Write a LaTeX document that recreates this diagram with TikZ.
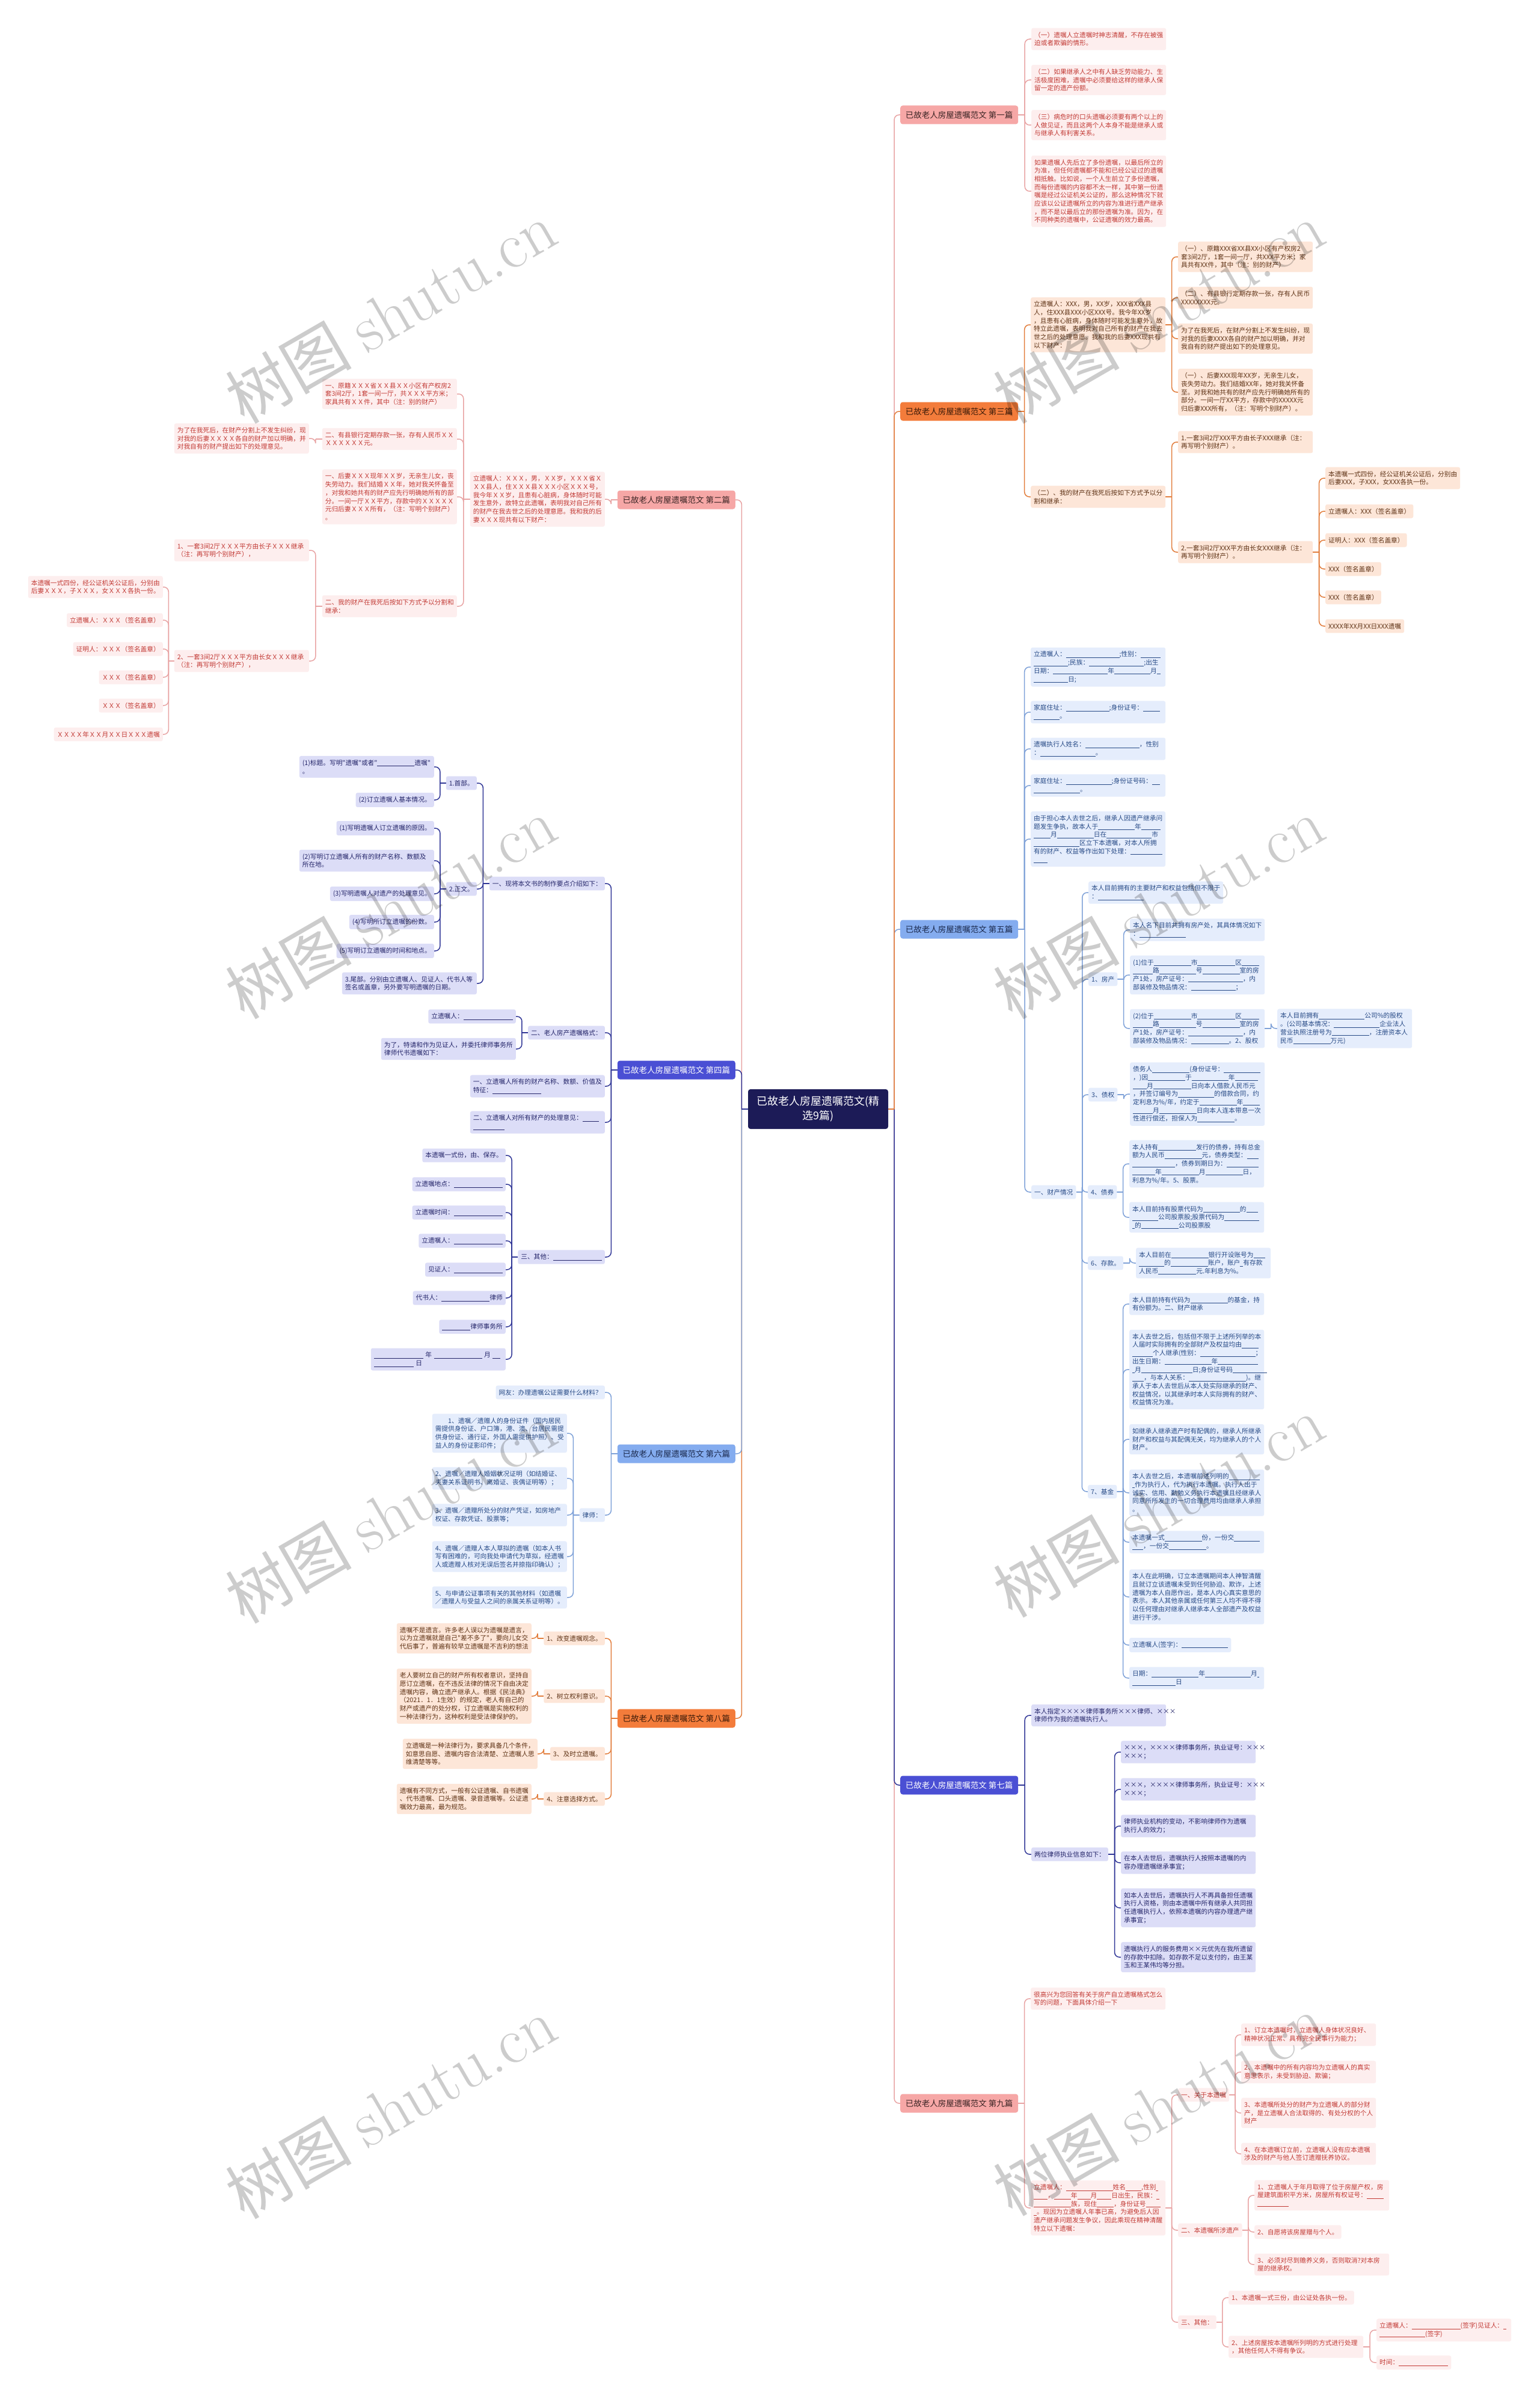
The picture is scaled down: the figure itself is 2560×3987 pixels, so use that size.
\documentclass[tikz,border=0pt]{standalone}
\usepackage{fontspec}
\newfontfamily\cjk{Noto Sans CJK SC}
\pgfdeclarelayer{bg}
\pgfsetlayers{bg,main}
\definecolor{pkF}{HTML}{FDEEEE}\definecolor{pkT}{HTML}{C23A35}\definecolor{pkL}{HTML}{E8A3A3}\definecolor{pkH}{HTML}{F6A7A6}\definecolor{pkHT}{HTML}{3A2424}
\definecolor{ogF}{HTML}{FDE6D8}\definecolor{ogT}{HTML}{5E3215}\definecolor{ogL}{HTML}{E27D3C}\definecolor{ogH}{HTML}{F37C3B}\definecolor{ogHT}{HTML}{3A1A08}
\definecolor{nvF}{HTML}{DCDDF7}\definecolor{nvT}{HTML}{25266A}\definecolor{nvL}{HTML}{2F3596}\definecolor{nvH}{HTML}{4A4FD4}
\definecolor{lbF}{HTML}{E5EDFC}\definecolor{lbT}{HTML}{274A86}\definecolor{lbL}{HTML}{7EA1D8}\definecolor{lbH}{HTML}{84ACEF}\definecolor{lbHT}{HTML}{1B2A4E}
\definecolor{ctrF}{HTML}{1C1B57}
\newcommand\blk[1]{\rule[-1.5pt]{#1pt}{0.55pt}}
\newcommand\lkR[3]{%
  \path (#2.east) -- (#2.east -| #3.west) coordinate[pos=0.5] (mm);
  \draw[#1] (#2.east) -- (mm);
  \draw[#1,rounded corners=8pt] (mm) |- (#3.west);}
\newcommand\lkL[3]{%
  \path (#2.west) -- (#2.west -| #3.east) coordinate[pos=0.5] (mm);
  \draw[#1] (#2.west) -- (mm);
  \draw[#1,rounded corners=8pt] (mm) |- (#3.east);}
\tikzset{
 bx/.style={font=\cjk\fontsize{10.7}{13.7}\selectfont, inner xsep=5pt, inner ysep=6.4pt, rounded corners=3pt, align=left},
 bw/.style={bx, text width=214pt},
 Pk/.style={fill=pkF, text=pkT},
 Og/.style={fill=ogF, text=ogT},
 Nv/.style={fill=nvF, text=nvT},
 Lb/.style={fill=lbF, text=lbT},
 tt/.style={font=\cjk\fontsize{13.5}{16}\selectfont, minimum width=196pt, minimum height=31pt, inner sep=2pt, rounded corners=4pt},
 ttPk/.style={tt, fill=pkH, text=pkHT},
 ttOg/.style={tt, fill=ogH, text=ogHT},
 ttNv/.style={tt, fill=nvH, text=white},
 ttLb/.style={tt, fill=lbH, text=lbHT},
 ctr/.style={font=\cjk\fontsize{18}{24}\selectfont, fill=ctrF, text=white, align=center, minimum width=233pt, minimum height=66pt, rounded corners=4pt},
 lnPk/.style={draw=pkL, line width=1.5pt},
 lnOg/.style={draw=ogL, line width=1.5pt},
 lnNv/.style={draw=nvL, line width=1.5pt},
 lnLb/.style={draw=lbL, line width=1.5pt},
 wm/.style={text=black, text opacity=0.2, rotate=30, inner sep=0pt}
}
\begin{document}
\begin{tikzpicture}[x=1pt,y=-1pt]
\useasboundingbox (0,0) rectangle (2560,3987);
% ---------- centre and titles
\node[ctr] (c) at (1360.5,1844) {已故老人房屋遗嘱范文(精\\选9篇)};
\node[ttPk, anchor=west] (T1) at (1497,191) {已故老人房屋遗嘱范文 第一篇};
\node[ttOg, anchor=west] (T3) at (1497,684) {已故老人房屋遗嘱范文 第三篇};
\node[ttLb, anchor=west] (T5) at (1497,1545) {已故老人房屋遗嘱范文 第五篇};
\node[ttNv, anchor=west] (T7) at (1497,2968) {已故老人房屋遗嘱范文 第七篇};
\node[ttPk, anchor=west] (T9) at (1497,3497) {已故老人房屋遗嘱范文 第九篇};
\node[ttPk, anchor=east] (T2) at (1223,831) {已故老人房屋遗嘱范文 第二篇};
\node[ttNv, anchor=east] (T4) at (1223,1779) {已故老人房屋遗嘱范文 第四篇};
\node[ttLb, anchor=east] (T6) at (1223,2417) {已故老人房屋遗嘱范文 第六篇};
\node[ttOg, anchor=east] (T8) at (1223,2857) {已故老人房屋遗嘱范文 第八篇};
% ---------- 第一篇
\node[bw,Pk,anchor=west] (p1a) at (1715,65) {（一）遗嘱人立遗嘱时神志清醒，不存在被强\\迫或者欺骗的情形。};
\node[bw,Pk,anchor=west] (p1b) at (1715,133) {（二）如果继承人之中有人缺乏劳动能力、生\\活极度困难，遗嘱中必须要给这样的继承人保\\留一定的遗产份额。};
\node[bw,Pk,anchor=west] (p1c) at (1715,208) {（三）病危时的口头遗嘱必须要有两个以上的\\人做见证，而且这两个人本身不能是继承人或\\与继承人有利害关系。};
\node[bw,Pk,anchor=west] (p1d) at (1715,318) {如果遗嘱人先后立了多份遗嘱，以最后所立的\\为准，但任何遗嘱都不能和已经公证过的遗嘱\\相抵触。比如说，一个人生前立了多份遗嘱，\\而每份遗嘱的内容都不太一样，其中第一份遗\\嘱是经过公证机关公证的，那么这种情况下就\\应该以公证遗嘱所立的内容为准进行遗产继承\\，而不是以最后立的那份遗嘱为准。因为，在\\不同种类的遗嘱中，公证遗嘱的效力最高。};
% ---------- 第三篇
\node[bw,Og,anchor=west] (q1) at (1714,540) {立遗嘱人：XXX，男，XX岁，XXX省XXX县\\人，住XXX县XXX小区XXX号。我今年XX岁\\，且患有心脏病，身体随时可能发生意外，故\\特立此遗嘱，表明我对自己所有的财产在我去\\世之后的处理意愿。我和我的后妻XXX现共有\\以下财产：};
\node[bw,Og,anchor=west] (q2) at (1714,826) {（二）、我的财产在我死后按如下方式予以分\\割和继承：};
\node[bw,Og,anchor=west] (q1a) at (1959,427) {（一）、原籍XXX省XX县XX小区有产权房2\\套3间2厅，1套一间一厅，共XXX平方米；家\\具共有XX件，其中（注：别的财产）};
\node[bw,Og,anchor=west] (q1b) at (1959,495) {（二）、有县银行定期存款一张，存有人民币\\XXXXXXXX元。};
\node[bw,Og,anchor=west] (q1c) at (1959,563) {为了在我死后，在财产分割上不发生纠纷，现\\对我的后妻XXXX各自的财产加以明确，并对\\我自有的财产提出如下的处理意见。};
\node[bw,Og,anchor=west] (q1d) at (1959,652) {（一）、后妻XXX现年XX岁，无亲生儿女，\\丧失劳动力。我们结婚XX年，她对我关怀备\\至。对我和她共有的财产应先行明确她所有的\\部分。一间一厅XX平方，存款中的XXXXX元\\归后妻XXX所有，（注：写明个别财产）。};
\node[bw,Og,anchor=west] (q2a) at (1959,735) {1.一套3间2厅XXX平方由长子XXX继承（注：\\再写明个别财产）。};
\node[bw,Og,anchor=west] (q2b) at (1959,918) {2.一套3间2厅XXX平方由长女XXX继承（注：\\再写明个别财产）。};
\node[bw,Og,anchor=west] (q2b1) at (2204,795) {本遗嘱一式四份，经公证机关公证后，分别由\\后妻XXX，子XXX，女XXX各执一份。};
\node[bx,Og,anchor=west] (q2b2) at (2204,850) {立遗嘱人：XXX（签名盖章）};
\node[bx,Og,anchor=west] (q2b3) at (2204,898) {证明人：XXX（签名盖章）};
\node[bx,Og,anchor=west] (q2b4) at (2204,946) {XXX（签名盖章）};
\node[bx,Og,anchor=west] (q2b5) at (2204,993) {XXX（签名盖章）};
\node[bx,Og,anchor=west] (q2b6) at (2204,1041) {XXXX年XX月XX日XXX遗嘱};
% ---------- 第五篇
\node[bw,Lb,anchor=west] (v1) at (1714,1109) {立遗嘱人：\blk{89};性别：\blk{33}\\\blk{57};民族：\blk{91};出生\\日期：\blk{91}年\blk{60}月\blk{6}\\\blk{57}日;};
\node[bw,Lb,anchor=west] (v2) at (1714,1184) {家庭住址：\blk{72};身份证号：\blk{28}\\\blk{43}。};
\node[bw,Lb,anchor=west] (v3) at (1714,1245) {遗嘱执行人姓名：\blk{90}，性别\\：\blk{92}。};
\node[bw,Lb,anchor=west] (v4) at (1714,1306) {家庭住址：\blk{76};身份证号码：\blk{13}\\\blk{77}。};
\node[bw,Lb,anchor=west] (v5) at (1714,1395) {由于担心本人去世之后，继承人因遗产继承问\\题发生争执，故本人于\blk{61}年\blk{32}\\\blk{28}月\blk{61}日在\blk{75}市\\\blk{76}区立下本遗嘱，对本人所拥\\有的财产、权益等作出如下处理：\blk{53}\\\blk{23}};
\node[bx,Lb,anchor=west] (v6) at (1715,1982) {一、财产情况};
\node[bw,Lb,anchor=west] (w0) at (1810,1484) {本人目前拥有的主要财产和权益包括但不限于\\：\blk{76}};
\node[bx,Lb,anchor=west] (w1) at (1810,1628) {1、房产};
\node[bx,Lb,anchor=west] (w3) at (1810,1820) {3、债权};
\node[bx,Lb,anchor=west] (w4) at (1809,1982) {4、债券};
\node[bx,Lb,anchor=west] (w6) at (1809,2100) {6、存款。};
\node[bx,Lb,anchor=west] (w7) at (1809,2480) {7、基金};
\node[bw,Lb,anchor=west] (w1a) at (1879,1546) {本人名下目前共拥有房产处，其具体情况如下\\：\blk{77}};
\node[bw,Lb,anchor=west] (w1b) at (1879,1621) {(1)位于\blk{62}市\blk{63}区\blk{29}\\\blk{33}路\blk{61}号\blk{62}室的房\\产1处，房产证号：\blk{91}，内\\部装修及物品情况：\blk{74}；};
\node[bw,Lb,anchor=west] (w1c) at (1879,1710) {(2)位于\blk{62}市\blk{63}区\blk{29}\\\blk{33}路\blk{61}号\blk{62}室的房\\产1处，房产证号：\blk{91}，内\\部装修及物品情况：\blk{63}。2、股权};
\node[bw,Lb,anchor=west] (w1c1) at (2124,1710) {本人目前拥有\blk{76}公司\%的股权\\。(公司基本情况：\blk{76}企业法人\\营业执照注册号为\blk{62}，注册资本人\\民币\blk{62}万元)};
\node[bw,Lb,anchor=west] (w3a) at (1879,1819) {债务人\blk{62}(身份证号：\blk{61}\\，)因\blk{62}于\blk{61}年\blk{38}\\\blk{23}月\blk{63}日向本人借款人民币元\\，并签订编号为\blk{60}的借款合同，约\\定利息为\%/年，约定于\blk{62}年\blk{28}\\\blk{33}月\blk{62}日向本人连本带息一次\\性进行偿还，担保人为\blk{62}。};
\node[bw,Lb,anchor=west] (w4a) at (1878,1935) {本人持有\blk{63}发行的债券，持有总金\\额为人民币\blk{62}元，债券类型：\blk{19}\\\blk{71}，债券到期日为：\blk{53}\\\blk{38}年\blk{62}月\blk{62}日，\\利息为\%/年。5、股票。};
\node[bw,Lb,anchor=west] (w4b) at (1878,2024) {本人目前持有股票代码为\blk{61}的\blk{19}\\\blk{43}公司股票股;股票代码为\blk{58}\\\blk{4}的\blk{62}公司股票股};
\node[bw,Lb,anchor=west] (w6a) at (1889,2100) {本人目前在\blk{62}银行开设账号为\blk{19}\\\blk{42}的\blk{62}账户，账户\blk{5}有存款\\人民币\blk{63}元.年利息为\%。};
\node[bw,Lb,anchor=west] (w7a) at (1878,2168) {本人目前持有代码为\blk{62}的基金，持\\有份额为。二、财产继承};
\node[bw,Lb,anchor=west] (w7b) at (1878,2277) {本人去世之后，包括但不限于上述所列举的本\\人届时实际拥有的全部财产及权益均由\blk{28}\\\blk{34}个人继承(性别：\blk{92}；\\出生日期：\blk{78}年\blk{67}\\\blk{4}月\blk{85}日;身份证号码\blk{57}\\\blk{19}，与本人关系：\blk{95})。继\\承人于本人去世后从本人处实际继承的财产、\\权益情况，以其继承时本人实际拥有的财产、\\权益情况为准。};
\node[bw,Lb,anchor=west] (w7c) at (1878,2393) {如继承人继承遗产时有配偶的，继承人所继承\\财产和权益与其配偶无关，均为继承人的个人\\财产。};
\node[bw,Lb,anchor=west] (w7d) at (1878,2482) {本人去世之后，本遗嘱前述列明的\blk{51}\\\blk{4}作为执行人，代为执行本遗嘱。执行人出于\\诚实、信用、勤勉义务执行本遗嘱且经继承人\\同意所所发生的一切合理费用均由继承人承担\\。};
\node[bw,Lb,anchor=west] (w7e) at (1878,2564) {本遗嘱一式\blk{62}份，一份交\blk{43}\\\blk{18}，一份交\blk{62}。};
\node[bw,Lb,anchor=west] (w7f) at (1878,2655) {本人在此明确，订立本遗嘱期间本人神智清醒\\且就订立该遗嘱未受到任何胁迫、欺诈，上述\\遗嘱为本人自愿作出，是本人内心真实意思的\\表示。本人其他亲属或任何第三人均不得不得\\以任何理由对继承人继承本人全部遗产及权益\\进行干涉。};
\node[bx,Lb,anchor=west] (w7g) at (1878,2735) {立遗嘱人(签字)：\blk{77}};
\node[bw,Lb,anchor=west] (w7h) at (1878,2790) {日期：\blk{78}年\blk{76}月\blk{3}\\\blk{72}日};
% ---------- 第七篇
\node[bw,Nv,anchor=west] (x1) at (1715,2852) {本人指定××××律师事务所×××律师、×××\\律师作为我的遗嘱执行人。};
\node[bx,Nv,anchor=west] (x2) at (1715,3083) {两位律师执业信息如下：};
\node[bw,Nv,anchor=west] (x2a) at (1864,2913) {×××，××××律师事务所，执业证号：×××\\×××；};
\node[bw,Nv,anchor=west] (x2b) at (1864,2975) {×××，××××律师事务所，执业证号：×××\\×××；};
\node[bw,Nv,anchor=west] (x2c) at (1864,3036) {律师执业机构的变动，不影响律师作为遗嘱\\执行人的效力；};
\node[bw,Nv,anchor=west] (x2d) at (1864,3097) {在本人去世后，遗嘱执行人按照本遗嘱的内\\容办理遗嘱继承事宜；};
\node[bw,Nv,anchor=west] (x2e) at (1864,3172) {如本人去世后，遗嘱执行人不再具备担任遗嘱\\执行人资格，则由本遗嘱中所有继承人共同担\\任遗嘱执行人，依照本遗嘱的内容办理遗产继\\承事宜；};
\node[bw,Nv,anchor=west] (x2f) at (1864,3254) {遗嘱执行人的服务费用××元优先在我所遗留\\的存款中扣除。如存款不足以支付的，由王某\\玉和王某伟均等分担。};
% ---------- 第九篇
\node[bw,Pk,anchor=west] (y1) at (1714,3323) {很高兴为您回答有关于房产自立遗嘱格式怎么\\写的问题，下面具体介绍一下};
\node[bw,Pk,anchor=west] (y2) at (1714,3671) {立遗嘱人：\blk{78}姓名\blk{26},性别\blk{4}\\\blk{23}，\blk{28}年\blk{22}月\blk{24}日出生，民族：\blk{5}\\\blk{62}族，现住\blk{28}，身份证号\blk{24}\\\blk{5}。现因为立遗嘱人年事已高，为避免后人因\\遗产继承问题发生争议，因此乘现在精神清醒\\特立以下遗嘱：};
\node[bx,Pk,anchor=west] (y2a) at (1959,3483) {一、关于本遗嘱};
\node[bx,Pk,anchor=west] (y2b) at (1959,3708) {二、本遗嘱所涉遗产};
\node[bx,Pk,anchor=west] (y2c) at (1959,3861) {三、其他：};
\node[bw,Pk,anchor=west] (y2a1) at (2064,3383) {1、订立本遗嘱时，立遗嘱人身体状况良好、\\精神状况正常、具有完全民事行为能力；};
\node[bw,Pk,anchor=west] (y2a2) at (2064,3445) {2、本遗嘱中的所有内容均为立遗嘱人的真实\\意思表示，未受到胁迫、欺骗；};
\node[bw,Pk,anchor=west] (y2a3) at (2064,3513) {3、本遗嘱所处分的财产为立遗嘱人的部分财\\产，是立遗嘱人合法取得的、有处分权的个人\\财产};
\node[bw,Pk,anchor=west] (y2a4) at (2064,3581) {4、在本遗嘱订立前，立遗嘱人没有应本遗嘱\\涉及的财产与他人签订遗赠抚养协议。};
\node[bw,Pk,anchor=west] (y2b1) at (2086,3650) {1、立遗嘱人于年月取得了位于房屋产权，房\\屋建筑面积平方米，房屋所有权证号：\blk{28}\\\blk{52}};
\node[bx,Pk,anchor=west] (y2b2) at (2086,3711) {2、自愿将该房屋赠与个人。};
\node[bw,Pk,anchor=west] (y2b3) at (2086,3765) {3、必须对尽到赡养义务，否则取消?对本房\\屋的继承权。};
\node[bx,Pk,anchor=west] (y2c1) at (2043,3820) {1、本遗嘱一式三份，由公证处各执一份。};
\node[bw,Pk,anchor=west] (y2c2) at (2043,3902) {2、上述房屋按本遗嘱所列明的方式进行处理\\，其他任何人不得有争议。};
\node[bw,Pk,anchor=west] (y2c2a) at (2289,3874) {立遗嘱人：\blk{81}(签字)见证人：\blk{5}\\\blk{76}(签字)};
\node[bx,Pk,anchor=west] (y2c2b) at (2289,3928) {时间：\blk{82}};
% ---------- 第二篇
\node[bw,Pk,anchor=east] (r1) at (1006,830) {立遗嘱人：ＸＸＸ，男，ＸＸ岁，ＸＸＸ省Ｘ\\ＸＸ县人，住ＸＸＸ县ＸＸＸ小区ＸＸＸ号，\\我今年ＸＸ岁，且患有心脏病，身体随时可能\\发生意外，故特立此遗嘱，表明我对自己所有\\的财产在我去世之后的处理意愿。我和我的后\\妻ＸＸＸ现共有以下财产：};
\node[bw,Pk,anchor=east] (r1a) at (760,655) {一、原籍ＸＸＸ省ＸＸ县ＸＸ小区有产权房2\\套3间2厅，1套一间一厅，共ＸＸＸ平方米；\\家具共有ＸＸ件，其中（注：别的财产）};
\node[bw,Pk,anchor=east] (r1b) at (760,730) {二、有县银行定期存款一张，存有人民币ＸＸ\\ＸＸＸＸＸＸ元。};
\node[bw,Pk,anchor=east] (r1c) at (760,826) {一、后妻ＸＸＸ现年ＸＸ岁，无亲生儿女，丧\\失劳动力。我们结婚ＸＸ年，她对我关怀备至\\，对我和她共有的财产应先行明确她所有的部\\分。一间一厅ＸＸ平方，存款中的ＸＸＸＸＸ\\元归后妻ＸＸＸ所有，（注：写明个别财产）\\。};
\node[bw,Pk,anchor=east] (r2) at (760,1008) {二、我的财产在我死后按如下方式予以分割和\\继承：};
\node[bw,Pk,anchor=east] (r1b1) at (514,729) {为了在我死后，在财产分割上不发生纠纷，现\\对我的后妻ＸＸＸＸ各自的财产加以明确，并\\对我自有的财产提出如下的处理意见。};
\node[bw,Pk,anchor=east] (r2a) at (514,915) {1、一套3间2厅ＸＸＸ平方由长子ＸＸＸ继承\\（注：再写明个别财产），};
\node[bw,Pk,anchor=east] (r2b) at (514,1099) {2、一套3间2厅ＸＸＸ平方由长女ＸＸＸ继承\\（注：再写明个别财产），};
\node[bw,Pk,anchor=east] (r2b1) at (271,976) {本遗嘱一式四份，经公证机关公证后，分别由\\后妻ＸＸＸ，子ＸＸＸ，女ＸＸＸ各执一份。};
\node[bx,Pk,anchor=east] (r2b2) at (271,1031) {立遗嘱人：ＸＸＸ（签名盖章）};
\node[bx,Pk,anchor=east] (r2b3) at (271,1079) {证明人：ＸＸＸ（签名盖章）};
\node[bx,Pk,anchor=east] (r2b4) at (271,1126) {ＸＸＸ（签名盖章）};
\node[bx,Pk,anchor=east] (r2b5) at (271,1173) {ＸＸＸ（签名盖章）};
\node[bx,Pk,anchor=east] (r2b6) at (271,1221) {ＸＸＸＸ年ＸＸ月ＸＸ日ＸＸＸ遗嘱};
% ---------- 第四篇
\node[bx,Nv,anchor=east] (s1) at (1006,1469) {一、现将本文书的制作要点介绍如下：};
\node[bx,Nv,anchor=east] (s2) at (1006,1717) {二、老人房产遗嘱格式：};
\node[bw,Nv,anchor=east] (s3) at (1006,1806) {一、立遗嘱人所有的财产名称、数额、价值及\\特征：\blk{81}};
\node[bw,Nv,anchor=east] (s4) at (1006,1866) {二、立遗嘱人对所有财产的处理意见：\blk{27}\\\blk{52}};
\node[bx,Nv,anchor=east] (s5) at (1006,2090) {三、其他：\blk{81}};
\node[bx,Nv,anchor=east] (s1a) at (793,1302) {1.首部。};
\node[bx,Nv,anchor=east] (s1b) at (793,1478) {2.正文。};
\node[bw,Nv,anchor=east] (s1c) at (793,1635) {3.尾部。分别由立遗嘱人、见证人、代书人等\\签名或盖章，另外要写明遗嘱的日期。};
\node[bw,Nv,anchor=east] (s1a1) at (722,1275) {(1)标题。写明"遗嘱"或者"\blk{62}遗嘱"\\。};
\node[bx,Nv,anchor=east] (s1a2) at (722,1330) {(2)订立遗嘱人基本情况。};
\node[bx,Nv,anchor=east] (s1b1) at (722,1377) {(1)写明遗嘱人订立遗嘱的原因。};
\node[bw,Nv,anchor=east] (s1b2) at (722,1431) {(2)写明订立遗嘱人所有的财产名称、数额及\\所在地。};
\node[bx,Nv,anchor=east] (s1b3) at (722,1486) {(3)写明遗嘱人对遗产的处理意见。};
\node[bx,Nv,anchor=east] (s1b4) at (722,1533) {(4)写明所订立遗嘱的份数。};
\node[bx,Nv,anchor=east] (s1b5) at (722,1581) {(5)写明订立遗嘱的时间和地点。};
\node[bx,Nv,anchor=east] (s2a) at (858,1690) {立遗嘱人：\blk{82}};
\node[bw,Nv,anchor=east] (s2b) at (858,1744) {为了，特请和作为见证人，并委托律师事务所\\律师代书遗嘱如下：};
\node[bx,Nv,anchor=east] (s5a) at (841,1921) {本遗嘱一式份，由、保存。};
\node[bx,Nv,anchor=east] (s5b) at (841,1969) {立遗嘱地点：\blk{81}};
\node[bx,Nv,anchor=east] (s5c) at (841,2016) {立遗嘱时间：\blk{81}};
\node[bx,Nv,anchor=east] (s5d) at (841,2063) {立遗嘱人：\blk{81}};
\node[bx,Nv,anchor=east] (s5e) at (841,2111) {见证人：\blk{81}};
\node[bx,Nv,anchor=east] (s5f) at (841,2158) {代书人：\blk{80}律师};
\node[bx,Nv,anchor=east] (s5g) at (841,2206) {\blk{47}律师事务所};
\node[bw,Nv,anchor=east] (s5h) at (841,2260) {\blk{82} 年 \blk{80} 月 \blk{13}\\\blk{66} 日};
% ---------- 第六篇
\node[bx,Lb,anchor=east] (t1) at (1006,2315) {网友：办理遗嘱公证需要什么材料？};
\node[bx,Lb,anchor=east] (t2) at (1006,2519) {律师：};
\node[bw,Lb,anchor=east] (t2a) at (943,2383) {\hspace*{21.4pt}1、遗嘱／遗赠人的身份证件（国内居民\\需提供身份证、户口簿，港、澳、台居民需提\\供身份证、通行证，外国人需提供护照）、受\\益人的身份证影印件；};
\node[bw,Lb,anchor=east] (t2b) at (943,2458) {2、遗嘱／遗赠人婚姻状况证明（如结婚证、\\夫妻关系证明书、离婚证、丧偶证明等）；};
\node[bw,Lb,anchor=east] (t2c) at (943,2519) {3、遗嘱／遗赠所处分的财产凭证，如房地产\\权证、存款凭证、股票等；};
\node[bw,Lb,anchor=east] (t2d) at (943,2588) {4、遗嘱／遗赠人本人草拟的遗嘱（如本人书\\写有困难的，可向我处申请代为草拟，经遗嘱\\人或遗赠人核对无误后签名并捺指印确认）；};
\node[bw,Lb,anchor=east] (t2e) at (943,2656) {5、与申请公证事项有关的其他材料（如遗嘱\\／遗赠人与受益人之间的亲属关系证明等）。};
% ---------- 第八篇
\node[bx,Og,anchor=east] (u1) at (1006,2724) {1、改变遗嘱观念。};
\node[bx,Og,anchor=east] (u2) at (1006,2820) {2、树立权利意识。};
\node[bx,Og,anchor=east] (u3) at (1006,2916) {3、及时立遗嘱。};
\node[bx,Og,anchor=east] (u4) at (1006,2991) {4、注意选择方式。};
\node[bw,Og,anchor=east] (u1a) at (884,2724) {遗嘱不是遗言。许多老人误以为遗嘱是遗言，\\以为立遗嘱就是自己"差不多了"，要向儿女交\\代后事了，普遍有较早立遗嘱是不吉利的想法};
\node[bw,Og,anchor=east] (u2a) at (884,2820) {老人要树立自己的财产所有权者意识，坚持自\\愿订立遗嘱，在不违反法律的情况下自由决定\\遗嘱内容，确立遗产继承人。根据《民法典》\\（2021．1．1生效）的规定，老人有自己的\\财产或遗产的处分权，订立遗嘱是实施权利的\\一种法律行为，这种权利是受法律保护的。};
\node[bw,Og,anchor=east] (u3a) at (894,2916) {立遗嘱是一种法律行为，要求具备几个条件，\\如意思自愿、遗嘱内容合法清楚、立遗嘱人思\\维清楚等等。};
\node[bw,Og,anchor=east] (u4a) at (884,2991) {遗嘱有不同方式，一般有公证遗嘱、自书遗嘱\\、代书遗嘱、口头遗嘱、录音遗嘱等。公证遗\\嘱效力最高，最为规范。};
% ---------- connectors
\begin{pgfonlayer}{bg}
\fill[white] (0,0) rectangle (2560,3987);
\begin{scope}[every path/.append style={line width=1.8pt}]
\lkR{lnPk}{c}{T9}\lkR{lnNv}{c}{T7}\lkR{lnLb}{c}{T5}\lkR{lnPk}{c}{T1}\lkR{lnOg}{c}{T3}
\lkL{lnOg}{c}{T8}\lkL{lnLb}{c}{T6}\lkL{lnPk}{c}{T2}\lkL{lnNv}{c}{T4}
\end{scope}
\foreach \n in {p1a,p1b,p1c,p1d}{\lkR{lnPk}{T1}{\n}}
\foreach \n in {q1,q2}{\lkR{lnOg}{T3}{\n}}
\foreach \n in {q1a,q1b,q1c,q1d}{\lkR{lnOg}{q1}{\n}}
\foreach \n in {q2a,q2b}{\lkR{lnOg}{q2}{\n}}
\foreach \n in {q2b1,q2b2,q2b3,q2b4,q2b5,q2b6}{\lkR{lnOg}{q2b}{\n}}
\foreach \n in {v1,v2,v3,v4,v5,v6}{\lkR{lnLb}{T5}{\n}}
\foreach \n in {w0,w1,w3,w4,w6,w7}{\lkR{lnLb}{v6}{\n}}
\foreach \n in {w1a,w1b,w1c}{\lkR{lnLb}{w1}{\n}}
\lkR{lnLb}{w1c}{w1c1}\lkR{lnLb}{w3}{w3a}\lkR{lnLb}{w6}{w6a}
\foreach \n in {w4a,w4b}{\lkR{lnLb}{w4}{\n}}
\foreach \n in {w7a,w7b,w7c,w7d,w7e,w7f,w7g,w7h}{\lkR{lnLb}{w7}{\n}}
\foreach \n in {x1,x2}{\lkR{lnNv}{T7}{\n}}
\foreach \n in {x2a,x2b,x2c,x2d,x2e,x2f}{\lkR{lnNv}{x2}{\n}}
\foreach \n in {y1,y2}{\lkR{lnPk}{T9}{\n}}
\foreach \n in {y2a,y2b,y2c}{\lkR{lnPk}{y2}{\n}}
\foreach \n in {y2a1,y2a2,y2a3,y2a4}{\lkR{lnPk}{y2a}{\n}}
\foreach \n in {y2b1,y2b2,y2b3}{\lkR{lnPk}{y2b}{\n}}
\foreach \n in {y2c1,y2c2}{\lkR{lnPk}{y2c}{\n}}
\foreach \n in {y2c2a,y2c2b}{\lkR{lnPk}{y2c2}{\n}}
\lkL{lnPk}{T2}{r1}
\foreach \n in {r1a,r1b,r1c,r2}{\lkL{lnPk}{r1}{\n}}
\lkL{lnPk}{r1b}{r1b1}
\foreach \n in {r2a,r2b}{\lkL{lnPk}{r2}{\n}}
\foreach \n in {r2b1,r2b2,r2b3,r2b4,r2b5,r2b6}{\lkL{lnPk}{r2b}{\n}}
\foreach \n in {s1,s2,s3,s4,s5}{\lkL{lnNv}{T4}{\n}}
\foreach \n in {s1a,s1b,s1c}{\lkL{lnNv}{s1}{\n}}
\foreach \n in {s1a1,s1a2}{\lkL{lnNv}{s1a}{\n}}
\foreach \n in {s1b1,s1b2,s1b3,s1b4,s1b5}{\lkL{lnNv}{s1b}{\n}}
\foreach \n in {s2a,s2b}{\lkL{lnNv}{s2}{\n}}
\foreach \n in {s5a,s5b,s5c,s5d,s5e,s5f,s5g,s5h}{\lkL{lnNv}{s5}{\n}}
\foreach \n in {t1,t2}{\lkL{lnLb}{T6}{\n}}
\foreach \n in {t2a,t2b,t2c,t2d,t2e}{\lkL{lnLb}{t2}{\n}}
\foreach \n in {u1,u2,u3,u4}{\lkL{lnOg}{T8}{\n}}
\lkL{lnOg}{u1}{u1a}\lkL{lnOg}{u2}{u2a}\lkL{lnOg}{u3}{u3a}\lkL{lnOg}{u4}{u4a}
\end{pgfonlayer}
% ---------- watermarks
\foreach \wx/\wy in {650/520,1927/520,650/1510,1927/1510,650/2515,1927/2505,650/3505,1927/3500}{
 \node[wm] at (\wx,\wy) {{\cjk\fontsize{105}{105}\selectfont 树图}\hspace{25pt}{\rmfamily\fontsize{110}{110}\selectfont shutu.cn}};
}
\end{tikzpicture}
\end{document}
